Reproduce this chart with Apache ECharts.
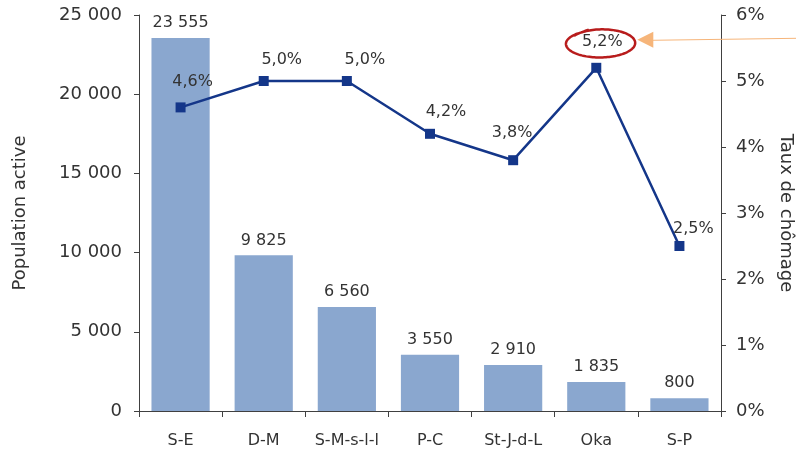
<!DOCTYPE html>
<html><head><meta charset="utf-8">
<script src="https://cdn.jsdelivr.net/npm/echarts@6/dist/echarts.min.js"></script>
<style>html,body{margin:0;padding:0;background:#fff}#c{width:796px;height:454px}</style>
</head><body><div id="c"></div>
<script>
const categories = ['S-E','D-M','S-M-s-l-l','P-C','St-J-d-L','Oka','S-P'];
const population = [23555, 9825, 6560, 3550, 2910, 1835, 800];
const chomage = [4.6, 5.0, 5.0, 4.2, 3.8, 5.2, 2.5];
const leftTicks = [0, 5000, 10000, 15000, 20000, 25000];
const rightTicks = [0, 1, 2, 3, 4, 5, 6];

const FONT = 'DejaVu Sans';
const TXT = '#333333';
const AX = '#404040';
const fmtNum = v => String(Math.round(v)).replace(/\B(?=(\d{3})+(?!\d))/g, ' ');
const fmtPct = v => String(v.toFixed(1)).replace('.', ',') + '%';
const labelOffsets = [[12,-26],[18,-21],[18,-21],[16,-22],[-1,-27],[6,-26],[14,-17]];

const chart = echarts.init(document.getElementById('c'), null, {renderer:'canvas'});
chart.setOption({
  animation:false,
  grid:{left:139, right:75, top:15, bottom:43, containLabel:false, outerBoundsMode:'none'},
  xAxis:{type:'category', data:categories,
    axisLine:{lineStyle:{color:AX, width:1}},
    axisTick:{show:true, interval:0, length:6, lineStyle:{color:AX}},
    axisLabel:{interval:0, color:TXT, fontFamily:FONT, fontSize:16, margin:22}},
  yAxis:[
    {type:'value', min:leftTicks[0], max:leftTicks[leftTicks.length-1], interval:5000,
     name:'Population active', nameLocation:'middle', nameGap:110, nameRotate:90,
     nameTextStyle:{color:TXT, fontFamily:FONT, fontSize:18},
     axisLine:{show:true, lineStyle:{color:AX}},
     axisTick:{show:true, length:5, lineStyle:{color:AX}},
     splitLine:{show:false},
     axisLabel:{color:TXT, fontFamily:FONT, fontSize:18, margin:17, formatter:fmtNum}},
    {type:'value', min:rightTicks[0], max:rightTicks[rightTicks.length-1], interval:1,
     name:'Taux de chômage', nameLocation:'middle', nameGap:56, nameRotate:-90,
     nameTextStyle:{color:TXT, fontFamily:FONT, fontSize:18},
     axisLine:{show:true, lineStyle:{color:AX}},
     axisTick:{show:true, length:5, lineStyle:{color:AX}},
     splitLine:{show:false},
     axisLabel:{color:TXT, fontFamily:FONT, fontSize:18, margin:15, formatter:v=>v+'%'}}
  ],
  series:[
    {type:'bar', data:population, yAxisIndex:0, barCategoryGap:'30%',
     itemStyle:{color:'#8aa7cf'},
     label:{show:true, position:'top', distance:7, color:TXT, fontFamily:FONT, fontSize:16, formatter:p=>fmtNum(p.value)}},
    {type:'line', yAxisIndex:1, z:5,
     data:chomage.map((v,i)=>({value:v, label:{offset:labelOffsets[i]}})),
     lineStyle:{color:'#143689', width:2.5},
     itemStyle:{color:'#143689'},
     symbol:'rect', symbolSize:10,
     label:{show:true, position:'inside', color:TXT, fontFamily:FONT, fontSize:16, formatter:p=>fmtPct(p.value)}}
  ]
});

// annotation: red hand-drawn ellipse around the 5,2% label & orange arrow
const p = chart.convertToPixel({xAxisIndex:0, yAxisIndex:1}, [5, chomage[5]]);
const cx = p[0] + 5, cy = p[1] - 24, rx = 34, ry = 14;
const pts = [];
for (let t = -0.35; t <= 2*Math.PI + 0.25; t += 0.05) {
  const wob = 1 + 0.04*Math.sin(t*1.5);
  pts.push([cx + rx*wob*Math.cos(t - Math.PI/2 - 0.6), cy + ry*wob*Math.sin(t - Math.PI/2 - 0.6) + (t>2*Math.PI ? -(t-2*Math.PI)*6 : 0)]);
}
const W = chart.getWidth();
const ay = cy - 4;
chart.setOption({graphic:[
  {type:'polyline', shape:{points:pts}, style:{stroke:'#b81c1c', lineWidth:2.5, fill:null}, z:100},
  {type:'line', shape:{x1:cx+50, y1:ay+0.5, x2:W, y2:ay-1.5}, style:{stroke:'#f6b57a', lineWidth:1}, z:100},
  {type:'polygon', shape:{points:[[cx+36, ay],[cx+52, ay-8],[cx+52, ay+8]]}, style:{fill:'#f6b57a'}, z:100}
]});
</script></body></html>
